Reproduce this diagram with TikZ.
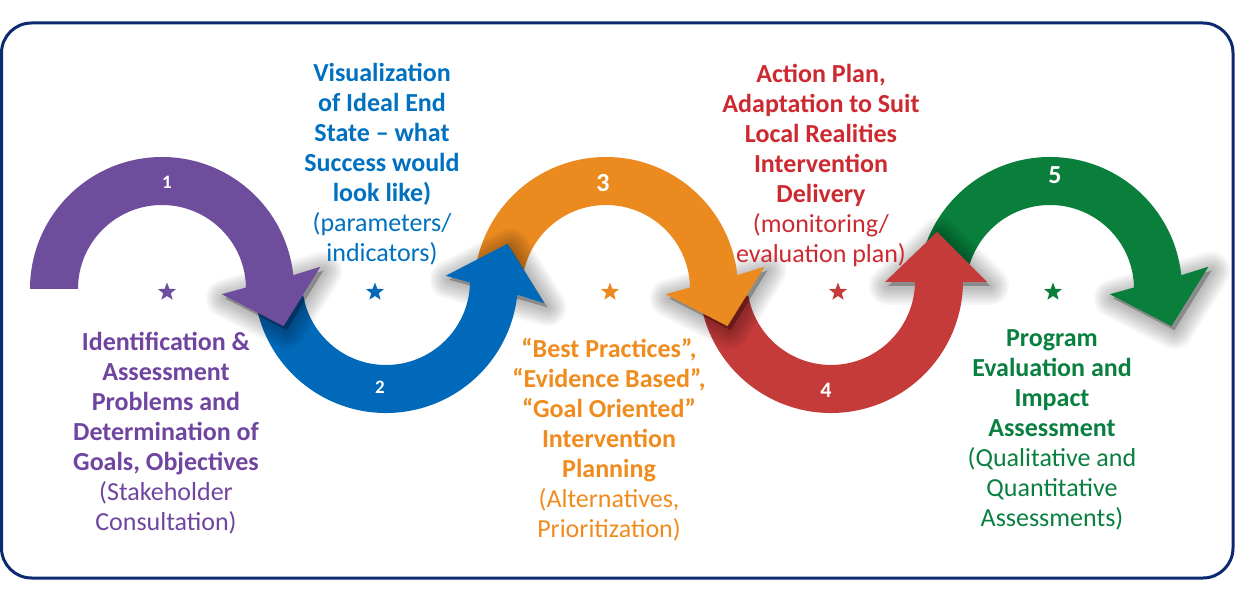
\documentclass[tikz,border=0pt]{standalone}
\usepackage{fontspec}
\setmainfont{Carlito}
\usetikzlibrary{shapes.geometric}
\definecolor{navy}{HTML}{0B2A6F}
\definecolor{cpur}{HTML}{6E4E9C}
\definecolor{cblu}{HTML}{0069B9}
\definecolor{cora}{HTML}{EA8A1F}
\definecolor{cred}{HTML}{C43B3A}
\definecolor{cgre}{HTML}{0A7F3C}
\definecolor{tpur}{HTML}{7045A0}
\definecolor{tblu}{HTML}{0070C0}
\definecolor{tora}{HTML}{F08C1E}
\definecolor{tred}{HTML}{CC2A30}
\definecolor{tgre}{HTML}{0A8040}
\newcommand{\B}[1]{\textbf{#1}}
% soft shadow of a triangle given centre and three points
\newcommand{\SoftShadow}[4]{%
  \foreach \w in {38,34,30,26,22,18,14,10,6}{%
    \filldraw[black,opacity=0.032,line width=\w pt,line join=round,shift={(#1)},xshift=3pt,yshift=-4pt]
      #2 -- #3 -- #4 -- cycle;}}
% top arrow: center, colour, start angle
\newcommand{\TopArrow}[3]{%
  \fill[#2,shift={(#1)}] (#3:132) arc[start angle=#3,end angle=6,radius=132]
    -- (8:160) -- (-17:127) -- (-5:60) -- (1:84)
    arc[start angle=1,end angle=#3,radius=84] -- cycle;}
% bottom arrow: center, colour, start angle
\newcommand{\BotArrow}[3]{%
  \fill[#2,shift={(#1)}] (#3:132) arc[start angle=#3,end angle=354,radius=132]
    -- (-8:160) -- (17:127) -- (5:60) -- (-1:84)
    arc[start angle=-1,end angle=#3-360,radius=84] -- cycle;}
\tikzset{
  txt/.style={anchor=north,align=center,inner sep=0pt,font=\fontsize{26}{30}\selectfont},
  num/.style={text=white,inner sep=0pt,font=\fontsize{19}{19}\selectfont\bfseries},
  bignum/.style={text=white,inner sep=0pt,font=\fontsize{26}{26}\selectfont\bfseries},
  starnode/.style={star,star points=5,star point ratio=2.4,minimum size=19pt,inner sep=0pt}
}
\begin{document}
\begin{tikzpicture}[x=1pt,y=1pt]
\useasboundingbox (0,0) rectangle (1250,600);
\fill[white] (0,0) rectangle (1250,600);
\draw[navy,line width=3pt,rounded corners=30pt] (1.5,22) rectangle (1233,577);

\coordinate (c1) at (162,311);
\coordinate (c2) at (386,319);
\coordinate (c3) at (606,311);
\coordinate (c4) at (831,319);
\coordinate (c5) at (1050,311);

% green
\SoftShadow{c5}{(8:160)}{(-17:127)}{(-5:60)}
\TopArrow{c5}{cgre}{174}
% red (head pointing straight up)
\SoftShadow{c4}{(156,-1)}{(106,49)}{(54,-1)}
\fill[cred,shift={(c4)}] (190:132) arc[start angle=190,end angle=359.6,radius=132]
  -- (156,-1) -- (106,49) -- (54,-1) -- (84,-1)
  arc[start angle=359.3,end angle=190,radius=84] -- cycle;
% orange
\SoftShadow{c3}{(8:160)}{(-17:127)}{(-5:60)}
\TopArrow{c3}{cora}{180}
% blue
\SoftShadow{c2}{(-8:160)}{(17:127)}{(5:60)}
\BotArrow{c2}{cblu}{190}
% purple
\SoftShadow{c1}{(8:160)}{(-17:127)}{(-5:60)}
\TopArrow{c1}{cpur}{180}

% numbers
\node[num] (n1) at (167,418) {1};
\node[num] (n2) at (380,213) {2};
\node[bignum] (n3) at (603,417) {3};
\node[num,font=\fontsize{22}{22}\selectfont\bfseries] (n4) at (826,210) {4};
\node[bignum] (n5) at (1055,425) {5};

% stars
\node[starnode,fill=cpur] (s1) at (167,308) {};
\node[starnode,fill=cblu] (s2) at (375,308) {};
\node[starnode,fill=cora] (s3) at (610,308) {};
\node[starnode,fill=cred] (s4) at (838,308) {};
\node[starnode,fill=cgre] (s5) at (1053,308) {};

% texts
\node[txt,text=tpur] (t1) at (166,268) {\B{Identification \&}\\ \B{Assessment}\\ \B{Problems and}\\ \B{Determination of}\\ \B{Goals, Objectives}\\ (Stakeholder\\ Consultation)};
\node[txt,text=tblu] (t2) at (382,537) {\B{Visualization}\\ \B{of Ideal End}\\ \B{State – what}\\ \B{Success would}\\ \B{look like)}\\ (parameters/\\ indicators)};
\node[txt,text=tora] (t3) at (609,262) {\B{“Best Practices”,}\\ \B{“Evidence Based”,}\\ \B{“Goal Oriented”}\\ \B{Intervention}\\ \B{Planning}\\ (Alternatives,\\ Prioritization)};
\node[txt,text=tred] (t4) at (821,536) {\B{Action Plan,}\\ \B{Adaptation to Suit}\\ \B{Local Realities}\\ \B{Intervention}\\ \B{Delivery}\\ (monitoring/\\ evaluation plan)};
\node[txt,text=tgre] (t5) at (1052,271) {\B{Program}\\ \B{Evaluation and}\\ \B{Impact}\\ \B{Assessment}\\ (Qualitative and\\ Quantitative\\ Assessments)};
\end{tikzpicture}
\end{document}
